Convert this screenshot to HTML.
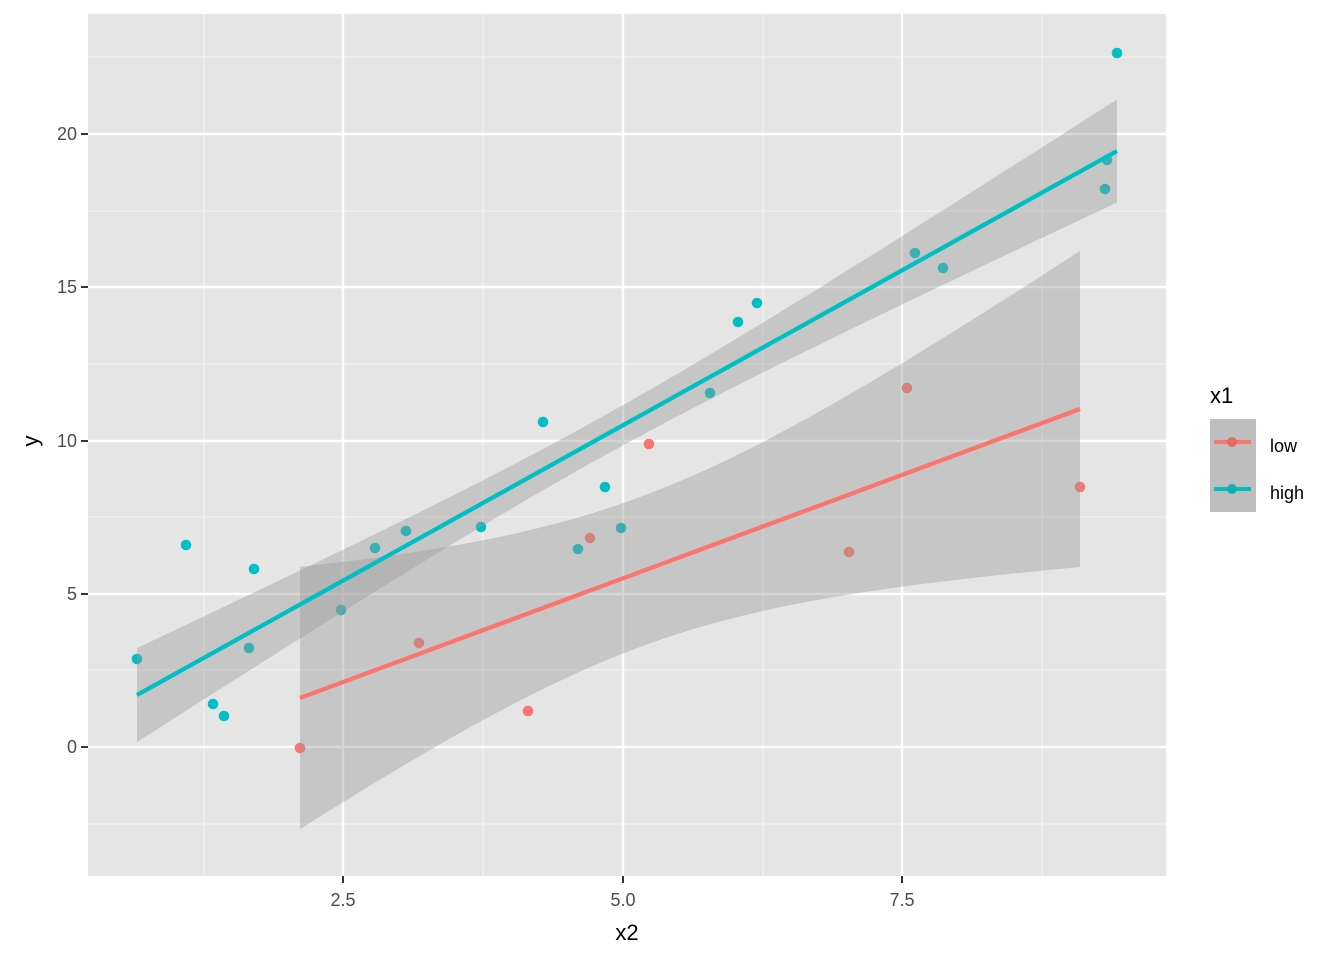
<!DOCTYPE html>
<html><head><meta charset="utf-8"><style>
body{margin:0;background:#fff}
text{font-family:"Liberation Sans",Arial,sans-serif}
</style></head><body>
<svg id="s" width="1344" height="960" xmlns="http://www.w3.org/2000/svg">
<rect x="88" y="14" width="1078" height="862" fill="#e5e5e5"/>
<g stroke="#f2f2f2" stroke-width="1.2">
<line x1="204" y1="14" x2="204" y2="876"/><line x1="483" y1="14" x2="483" y2="876"/><line x1="763" y1="14" x2="763" y2="876"/><line x1="1042" y1="14" x2="1042" y2="876"/>
<line x1="88" y1="57" x2="1166" y2="57"/><line x1="88" y1="211" x2="1166" y2="211"/><line x1="88" y1="364" x2="1166" y2="364"/><line x1="88" y1="517" x2="1166" y2="517"/><line x1="88" y1="670" x2="1166" y2="670"/><line x1="88" y1="824" x2="1166" y2="824"/>
</g>
<g stroke="#fff" stroke-width="2.4">
<line x1="343" y1="14" x2="343" y2="876"/><line x1="623" y1="14" x2="623" y2="876"/><line x1="902" y1="14" x2="902" y2="876"/>
<line x1="88" y1="134" x2="1166" y2="134"/><line x1="88" y1="287" x2="1166" y2="287"/><line x1="88" y1="441" x2="1166" y2="441"/><line x1="88" y1="594" x2="1166" y2="594"/><line x1="88" y1="747" x2="1166" y2="747"/>
</g>
<g id="pts"></g>
<g id="rib"></g>
<line x1="137" y1="695" x2="1117" y2="151" stroke="#00bfc4" stroke-width="4.3"/>
<line x1="300" y1="698" x2="1080" y2="409" stroke="#f8766d" stroke-width="4.3"/>
<g stroke="#333" stroke-width="2">
<line x1="343" y1="876" x2="343" y2="883"/><line x1="623" y1="876" x2="623" y2="883"/><line x1="902" y1="876" x2="902" y2="883"/>
<line x1="81" y1="134" x2="88" y2="134"/><line x1="81" y1="287" x2="88" y2="287"/><line x1="81" y1="441" x2="88" y2="441"/><line x1="81" y1="594" x2="88" y2="594"/><line x1="81" y1="747" x2="88" y2="747"/>
</g>
<g fill="#4d4d4d" font-size="18" text-anchor="middle">
<text x="343" y="906">2.5</text><text x="623" y="906">5.0</text><text x="902" y="906">7.5</text>
</g>
<g fill="#4d4d4d" font-size="18" text-anchor="end">
<text x="77" y="140">20</text><text x="77" y="293">15</text><text x="77" y="447">10</text><text x="77" y="600">5</text><text x="77" y="753">0</text>
</g>
<text x="627" y="940" font-size="22" text-anchor="middle">x2</text>
<text transform="translate(38,441) rotate(-90)" font-size="22" text-anchor="middle">y</text>
<text x="1210" y="403" font-size="22">x1</text>
<rect x="1210" y="419" width="46" height="93" fill="#bebebe"/>
<line x1="1214" y1="442" x2="1251" y2="442" stroke="#f8766d" stroke-width="4"/>
<circle cx="1232" cy="442" r="5" fill="#e36c64"/>
<line x1="1214" y1="489" x2="1251" y2="489" stroke="#00bfc4" stroke-width="4"/>
<circle cx="1232" cy="489" r="5" fill="#14aeb2"/>
<text x="1270" y="452" font-size="18" fill="#000">low</text>
<text x="1270" y="499" font-size="18" fill="#000">high</text>
</svg>
<script>
var NS="http://www.w3.org/2000/svg";
var hi=[[137,659],[186,545],[213,704],[224,716],[249,648],[254,569],[341,610],[375,548],[406,531],[481,527],[543,422],[578,549],[605,487],[621,528],[710,393],[738,322],[757,303],[915,253],[943,268],[1105,189],[1107,160],[1117,53]];
var lo=[[300,748],[419,643],[528,711],[590,538],[649,444],[849,552],[907,388],[1080,487]];
var g=document.getElementById('pts');
function dot(p,c){var e=document.createElementNS(NS,'circle');e.setAttribute('cx',p[0]);e.setAttribute('cy',p[1]);e.setAttribute('r',5.3);e.setAttribute('fill',c);g.appendChild(e);}
hi.forEach(function(p){dot(p,'#00bfc4')});lo.forEach(function(p){dot(p,'#f8766d')});
function rib(x0,y0,x1,y1,xc,a,b){var s=(y1-y0)/(x1-x0),up=[],dn=[];
for(var i=0;i<=60;i++){var x=x0+(x1-x0)*i/60,y=y0+s*(x-x0),h=Math.sqrt(a+b*(x-xc)*(x-xc));up.push(x+','+(y-h));dn.unshift(x+','+(y+h));}
var e=document.createElementNS(NS,'polygon');e.setAttribute('points',up.concat(dn).join(' '));e.setAttribute('fill','#999');e.setAttribute('fill-opacity','0.4');document.getElementById('rib').appendChild(e);}
rib(137,695,1117,151,600,400,0.00844);
rib(300,698,1080,409,640,5625,0.1);
</script>
</body></html>
